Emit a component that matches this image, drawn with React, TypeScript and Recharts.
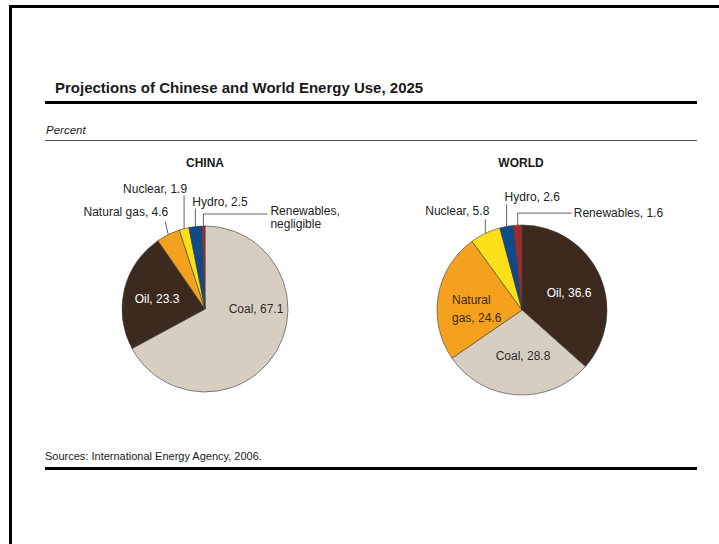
import { Cell, Pie, PieChart } from "recharts";

const chinaCategories = ["Coal", "Oil", "Natural gas", "Nuclear", "Hydro", "Renewables"];
const chinaValues = [67.1, 23.3, 4.6, 1.9, 2.5, 0.6];
const chinaLabels = [["Coal, 67.1"], ["Oil, 23.3"], ["Natural gas, 4.6"], ["Nuclear, 1.9"], ["Hydro, 2.5"], ["Renewables,", "negligible"]];

const worldCategories = ["Oil", "Coal", "Natural gas", "Nuclear", "Hydro", "Renewables"];
const worldValues = [36.6, 28.8, 24.6, 5.8, 2.6, 1.6];
const worldLabels = [["Oil, 36.6"], ["Coal, 28.8"], ["Natural", "gas, 24.6"], ["Nuclear, 5.8"], ["Hydro, 2.6"], ["Renewables, 1.6"]];

const colors: Record<string, string> = {
  Coal: "#d5cec1",
  Oil: "#3c2a1f",
  "Natural gas": "#f4a11d",
  Nuclear: "#fbdf18",
  Hydro: "#0d4c89",
  Renewables: "#a02b2d"
};

const FONT = "'Liberation Sans', Arial, Helvetica, sans-serif";
const LABEL_SIZE = 12;

// label placement: inside = offset from pie centre, leader = path from slice edge then text offset
type LabelStyle =
  | { kind: "inside"; dx: number; dy: number; fill: string; anchor: "middle" | "start" }
  | { kind: "leader"; path: number[][]; tx: number; ty: number; anchor: "start" | "end" };

const chinaLabelStyle: LabelStyle[] = [
  { kind: "inside", dx: 51, dy: 4, fill: "#2d2a26", anchor: "middle" },
  { kind: "inside", dx: -48, dy: -6, fill: "#ffffff", anchor: "middle" },
  { kind: "leader", path: [[-3, -13]], tx: 3, ty: -6, anchor: "end" },
  { kind: "leader", path: [[0, -33]], tx: 3, ty: -3, anchor: "end" },
  { kind: "leader", path: [[0, -18]], tx: -3, ty: -3, anchor: "start" },
  { kind: "leader", path: [[0, -12], [64, 0]], tx: 3, ty: 1, anchor: "start" }
];

const worldLabelStyle: LabelStyle[] = [
  { kind: "inside", dx: 47, dy: -13, fill: "#ffffff", anchor: "middle" },
  { kind: "inside", dx: 1, dy: 50, fill: "#2d2a26", anchor: "middle" },
  { kind: "inside", dx: -70, dy: -6, fill: "#3a2a18", anchor: "start" },
  { kind: "leader", path: [[0, -14]], tx: 4, ty: -4, anchor: "end" },
  { kind: "leader", path: [[0, -22]], tx: -2, ty: -3, anchor: "start" },
  { kind: "leader", path: [[0, -12], [54, 0]], tx: 2, ty: 4, anchor: "start" }
];

const RAD = Math.PI / 180;

function makeLabel(labels: string[][], styles: LabelStyle[]) {
  return (props: any) => {
    const { cx, cy, midAngle, outerRadius, index } = props;
    const st = styles[index];
    const lines = labels[index];
    if (st.kind === "inside") {
      return (
        <text x={cx + st.dx} y={cy + st.dy} fill={st.fill} textAnchor={st.anchor} fontSize={LABEL_SIZE} fontFamily={FONT}>
          {lines.map((l, i) => (
            <tspan key={i} x={cx + st.dx} dy={i === 0 ? 0 : 18}>{l}</tspan>
          ))}
        </text>
      );
    }
    const ex = cx + Math.cos(-midAngle * RAD) * outerRadius;
    const ey = cy + Math.sin(-midAngle * RAD) * outerRadius;
    let px = ex;
    let py = ey;
    let d = `M${ex},${ey}`;
    st.path.forEach(([mx, my]) => {
      px += mx;
      py += my;
      d += ` L${px},${py}`;
    });
    return (
      <g>
        <path d={d} stroke="#555" strokeWidth={0.9} fill="none" />
        <text x={px + st.tx} y={py + st.ty} fill="#222" textAnchor={st.anchor} fontSize={LABEL_SIZE} fontFamily={FONT}>
          {lines.map((l, i) => (
            <tspan key={i} x={px + st.tx} dy={i === 0 ? 0 : 13}>{l}</tspan>
          ))}
        </text>
      </g>
    );
  };
}

const chinaData = chinaCategories.map((name, i) => ({ name, value: chinaValues[i] }));
const worldData = worldCategories.map((name, i) => ({ name, value: worldValues[i] }));

const abs = (s: React.CSSProperties): React.CSSProperties => ({ position: "absolute", ...s });

export default function App() {
  return (
    <div style={abs({ left: 0, top: 0, width: 719, height: 544, background: "#fff", fontFamily: FONT, color: "#1a1a1a", overflow: "hidden" })}>
      <div style={abs({ left: 9, top: 5, width: 710, height: 3, background: "#000" })} />
      <div style={abs({ left: 9, top: 5, width: 3, height: 539, background: "#000" })} />
      <div style={abs({ left: 55, top: 79, fontSize: 15, fontWeight: "bold", lineHeight: "17px", whiteSpace: "nowrap" })}>
        Projections of Chinese and World Energy Use, 2025
      </div>
      <div style={abs({ left: 45, top: 101, width: 652, height: 3, background: "#000" })} />
      <div style={abs({ left: 46, top: 123, fontSize: 11.5, fontStyle: "italic", lineHeight: "14px" })}>Percent</div>
      <div style={abs({ left: 45, top: 140, width: 652, height: 1, background: "#555" })} />
      <div style={abs({ left: 155, top: 156, width: 100, textAlign: "center", fontSize: 12, fontWeight: "bold", lineHeight: "14px" })}>CHINA</div>
      <div style={abs({ left: 471, top: 156, width: 100, textAlign: "center", fontSize: 12, fontWeight: "bold", lineHeight: "14px" })}>WORLD</div>
      <div style={abs({ left: 45, top: 450, fontSize: 11, lineHeight: "13px", whiteSpace: "nowrap" })}>
        Sources: International Energy Agency, 2006.
      </div>
      <div style={abs({ left: 45, top: 467, width: 652, height: 3, background: "#000" })} />
      <div style={abs({ left: 0, top: 0 })}>
        <PieChart width={719} height={544} margin={{ top: 0, right: 0, bottom: 0, left: 0 }}>
          <Pie
            data={chinaData}
            dataKey="value"
            nameKey="name"
            cx={205}
            cy={309}
            outerRadius={83}
            startAngle={90}
            endAngle={-270}
            stroke="#3a3a3a"
            strokeWidth={0.6}
            label={makeLabel(chinaLabels, chinaLabelStyle)}
            labelLine={false}
            isAnimationActive={false}
          >
            {chinaData.map((d) => (
              <Cell key={d.name} fill={colors[d.name]} />
            ))}
          </Pie>
          <Pie
            data={worldData}
            dataKey="value"
            nameKey="name"
            cx={522}
            cy={310}
            outerRadius={85}
            startAngle={90}
            endAngle={-270}
            stroke="#3a3a3a"
            strokeWidth={0.6}
            label={makeLabel(worldLabels, worldLabelStyle)}
            labelLine={false}
            isAnimationActive={false}
          >
            {worldData.map((d) => (
              <Cell key={d.name} fill={colors[d.name]} />
            ))}
          </Pie>
        </PieChart>
      </div>
    </div>
  );
}
